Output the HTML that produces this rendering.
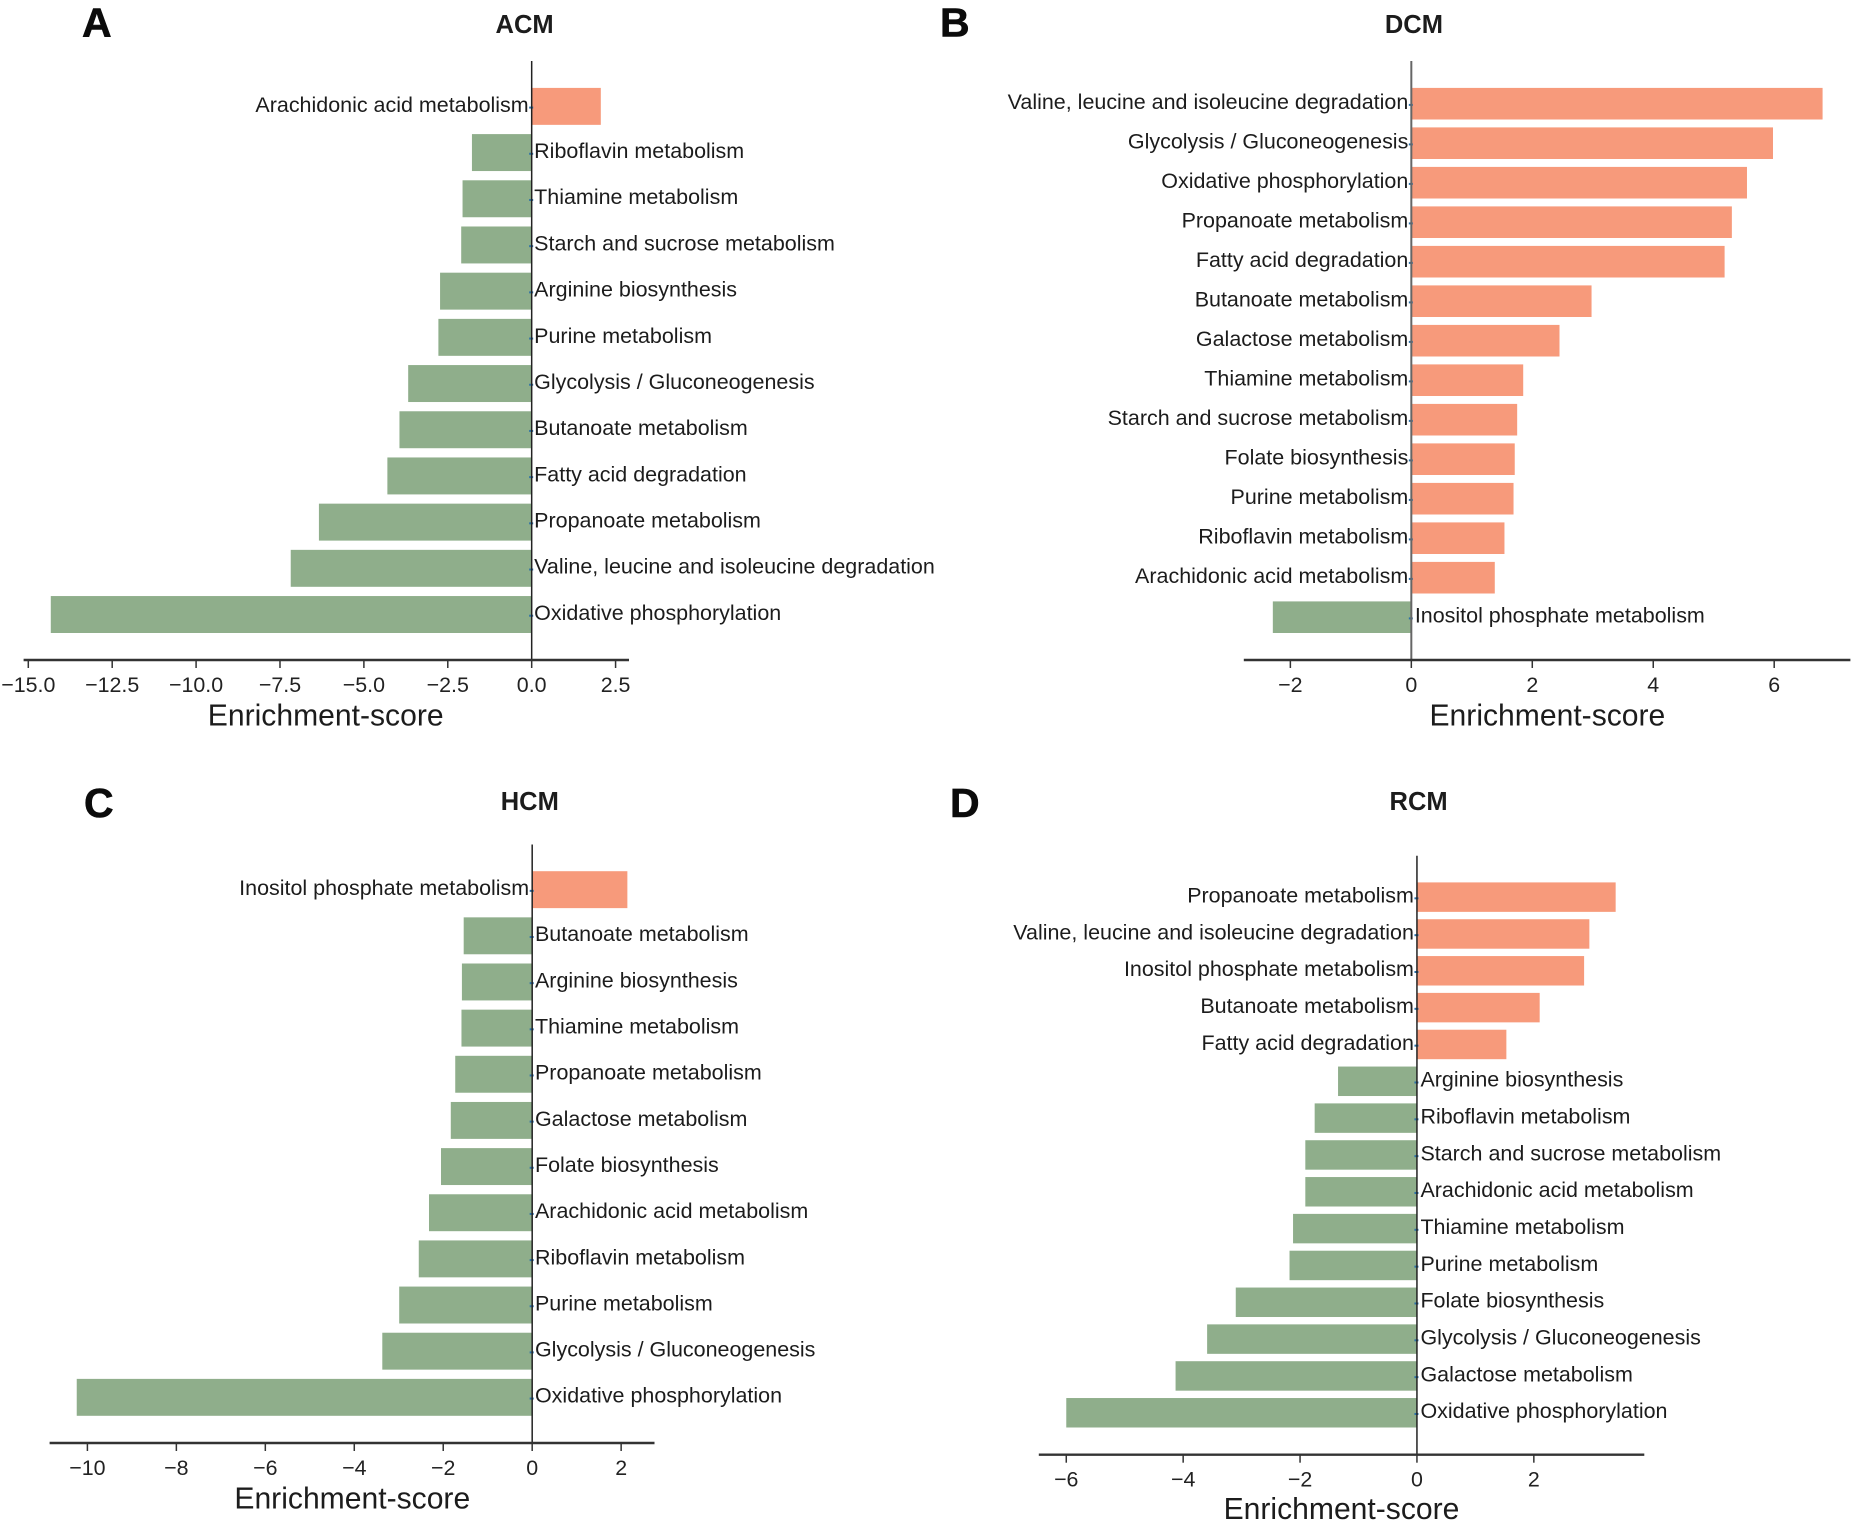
<!DOCTYPE html>
<html lang="en">
<head>
<meta charset="utf-8">
<title>Enrichment-score by cardiomyopathy type</title>
<style>
  html, body { margin: 0; padding: 0; background: #ffffff; }
  body { width: 1852px; height: 1522px; overflow: hidden; }
  svg { display: block; font-family: "Liberation Sans", Arial, sans-serif; }
  .panel-letter { font-size: 41px; font-weight: 700; fill: #0b0b0b; stroke: #0b0b0b; stroke-width: 0.6px; }
  .panel-title { font-size: 25.5px; font-weight: 700; fill: #1c1c1c; text-anchor: middle; }
  .axis-title { font-size: 30.1px; fill: #1c1c1c; text-anchor: middle; }
  .tick-label { font-size: 21.4px; fill: #222222; text-anchor: middle; }
  .cat-label { font-size: 21.47px; fill: #1c1c1c; }
</style>
</head>
<body>
<svg id="figure" xmlns="http://www.w3.org/2000/svg" width="1852" height="1522" viewBox="0 0 1852 1522">
  <rect x="0" y="0" width="1852" height="1522" fill="#ffffff"/>

  <g id="panel-acm">
    <text class="panel-letter" x="82" y="36.5">A</text>
    <text class="panel-title" x="524.6" y="33">ACM</text>
    <text class="axis-title" x="325.7" y="725.5">Enrichment-score</text>
  </g>
  <g id="panel-dcm">
    <text class="panel-letter" x="940" y="36.5">B</text>
    <text class="panel-title" x="1413.9" y="33">DCM</text>
    <text class="axis-title" x="1547.4" y="725.5">Enrichment-score</text>
  </g>
  <g id="panel-hcm">
    <text class="panel-letter" x="84" y="817">C</text>
    <text class="panel-title" x="529.8" y="810">HCM</text>
    <text class="axis-title" x="352.3" y="1508.5">Enrichment-score</text>
  </g>
  <g id="panel-rcm">
    <text class="panel-letter" x="950" y="817">D</text>
    <text class="panel-title" x="1418.6" y="810">RCM</text>
    <text class="axis-title" x="1341.5" y="1519">Enrichment-score</text>
  </g>
</svg>

<script>
// ---- Panel A: ACM ----
const acmCategories = ["Arachidonic acid metabolism", "Riboflavin metabolism", "Thiamine metabolism", "Starch and sucrose metabolism", "Arginine biosynthesis", "Purine metabolism", "Glycolysis / Gluconeogenesis", "Butanoate metabolism", "Fatty acid degradation", "Propanoate metabolism", "Valine, leucine and isoleucine degradation", "Oxidative phosphorylation"];
const acmValues = [2.06, -1.78, -2.06, -2.10, -2.73, -2.78, -3.68, -3.94, -4.30, -6.34, -7.18, -14.33];
const acmTicks = [-15, -12.5, -10, -7.5, -5, -2.5, 0, 2.5];
const acmTickLabels = ["\u221215.0", "\u221212.5", "\u221210.0", "\u22127.5", "\u22125.0", "\u22122.5", "0.0", "2.5"];
const acmDomain = [-15.14, 2.90];

// ---- Panel B: DCM ----
const dcmCategories = ["Valine, leucine and isoleucine degradation", "Glycolysis / Gluconeogenesis", "Oxidative phosphorylation", "Propanoate metabolism", "Fatty acid degradation", "Butanoate metabolism", "Galactose metabolism", "Thiamine metabolism", "Starch and sucrose metabolism", "Folate biosynthesis", "Purine metabolism", "Riboflavin metabolism", "Arachidonic acid metabolism", "Inositol phosphate metabolism"];
const dcmValues = [6.80, 5.98, 5.55, 5.30, 5.18, 2.98, 2.45, 1.85, 1.75, 1.71, 1.69, 1.54, 1.38, -2.29];
const dcmTicks = [-2, 0, 2, 4, 6];
const dcmTickLabels = ["\u22122", "0", "2", "4", "6"];
const dcmDomain = [-2.77, 7.26];

// ---- Panel C: HCM ----
const hcmCategories = ["Inositol phosphate metabolism", "Butanoate metabolism", "Arginine biosynthesis", "Thiamine metabolism", "Propanoate metabolism", "Galactose metabolism", "Folate biosynthesis", "Arachidonic acid metabolism", "Riboflavin metabolism", "Purine metabolism", "Glycolysis / Gluconeogenesis", "Oxidative phosphorylation"];
const hcmValues = [2.14, -1.54, -1.58, -1.59, -1.73, -1.83, -2.05, -2.32, -2.55, -2.99, -3.37, -10.24];
const hcmTicks = [-10, -8, -6, -4, -2, 0, 2];
const hcmTickLabels = ["\u221210", "\u22128", "\u22126", "\u22124", "\u22122", "0", "2"];
const hcmDomain = [-10.85, 2.75];

// ---- Panel D: RCM ----
const rcmCategories = ["Propanoate metabolism", "Valine, leucine and isoleucine degradation", "Inositol phosphate metabolism", "Butanoate metabolism", "Fatty acid degradation", "Arginine biosynthesis", "Riboflavin metabolism", "Starch and sucrose metabolism", "Arachidonic acid metabolism", "Thiamine metabolism", "Purine metabolism", "Folate biosynthesis", "Glycolysis / Gluconeogenesis", "Galactose metabolism", "Oxidative phosphorylation"];
const rcmValues = [3.40, 2.95, 2.86, 2.10, 1.53, -1.35, -1.75, -1.91, -1.91, -2.12, -2.18, -3.10, -3.59, -4.13, -6.00];
const rcmTicks = [-6, -4, -2, 0, 2];
const rcmTickLabels = ["\u22126", "\u22124", "\u22122", "0", "2"];
const rcmDomain = [-6.47, 3.89];

const SVG_NS = "http://www.w3.org/2000/svg";
const POSITIVE_FILL = "#f79a7b";
const NEGATIVE_FILL = "#8fae8b";

function shape(parent, tag, props) {
  const el = document.createElementNS(SVG_NS, tag);
  for (const key in props) el.setAttribute(key, props[key]);
  parent.appendChild(el);
  return el;
}

function drawPanel(cfg) {
  const root = document.getElementById(cfg.groupId);
  const span = cfg.domain[1] - cfg.domain[0];
  const xScale = v => cfg.axisLeft + (v - cfg.domain[0]) / span * (cfg.axisRight - cfg.axisLeft);
  const step = (cfg.barsBottom - cfg.barsTop) / (cfg.categories.length - 0.2);
  const bandTop = i => cfg.barsTop + i * step;
  const barHeight = step * 0.8;
  const zero = xScale(0);

  cfg.values.forEach((value, i) => {
    const xv = xScale(value);
    const slug = cfg.categories[i].toLowerCase().replace(/[^a-z]+/g, "-");
    const bar = shape(root, "rect", {
      x: Math.min(zero, xv),
      y: bandTop(i),
      width: Math.abs(xv - zero),
      height: barHeight,
      fill: value >= 0 ? POSITIVE_FILL : NEGATIVE_FILL
    });
    
    

    const cy = bandTop(i) + barHeight / 2;
    const label = shape(root, "text", {
      class: "cat-label",
      x: value >= 0 ? zero - 3 : zero + cfg.rightGap,
      y: cy + 5.4,
      "text-anchor": value >= 0 ? "end" : "start"
    });
    label.textContent = cfg.categories[i];
    
    

    const mark = shape(root, "rect", {
      x: zero - 2.5,
      y: cy + 0.2,
      width: 4,
      height: 2,
      fill: "#2a6fa8"
    });
    
    
  });

  const spine = shape(root, "line", {
    x1: zero, x2: zero, y1: cfg.spineTop, y2: cfg.axisY,
    stroke: cfg.spineColor, "stroke-width": cfg.spineWidth
  });
  
  

  const axisLine = shape(root, "line", {
    x1: cfg.axisLeft, x2: cfg.axisRight, y1: cfg.axisY, y2: cfg.axisY,
    stroke: "#333333", "stroke-width": 2.4
  });
  
  

  cfg.ticks.forEach((t, i) => {
    const tx = xScale(t);
    const tick = shape(root, "line", {
      x1: tx, x2: tx, y1: cfg.axisY, y2: cfg.axisY + 8,
      stroke: "#333333", "stroke-width": 1.5
    });
    
    

    const tickText = shape(root, "text", { class: "tick-label", x: tx, y: cfg.axisY + 32 });
    tickText.textContent = cfg.tickLabels[i];
    
    
  });
}

drawPanel({
  groupId: "panel-acm", categories: acmCategories, values: acmValues,
  ticks: acmTicks, tickLabels: acmTickLabels, domain: acmDomain,
  axisLeft: 23.6, axisRight: 629, axisY: 660, spineTop: 61,
  barsTop: 87.9, barsBottom: 633, spineColor: "#222222", spineWidth: 1.5, rightGap: 2.5
});
drawPanel({
  groupId: "panel-dcm", categories: dcmCategories, values: dcmValues,
  ticks: dcmTicks, tickLabels: dcmTickLabels, domain: dcmDomain,
  axisLeft: 1243.8, axisRight: 1850.4, axisY: 660, spineTop: 61,
  barsTop: 87.9, barsBottom: 633, spineColor: "#666666", spineWidth: 2, rightGap: 3.5
});
drawPanel({
  groupId: "panel-hcm", categories: hcmCategories, values: hcmValues,
  ticks: hcmTicks, tickLabels: hcmTickLabels, domain: hcmDomain,
  axisLeft: 49.6, axisRight: 654.5, axisY: 1443, spineTop: 844.5,
  barsTop: 871.2, barsBottom: 1415.8, spineColor: "#222222", spineWidth: 1.5, rightGap: 2.8
});
drawPanel({
  groupId: "panel-rcm", categories: rcmCategories, values: rcmValues,
  ticks: rcmTicks, tickLabels: rcmTickLabels, domain: rcmDomain,
  axisLeft: 1038.8, axisRight: 1644.3, axisY: 1454.7, spineTop: 855.7,
  barsTop: 882.4, barsBottom: 1427.5, spineColor: "#222222", spineWidth: 1.5, rightGap: 3.5
});
</script>
</body>
</html>
